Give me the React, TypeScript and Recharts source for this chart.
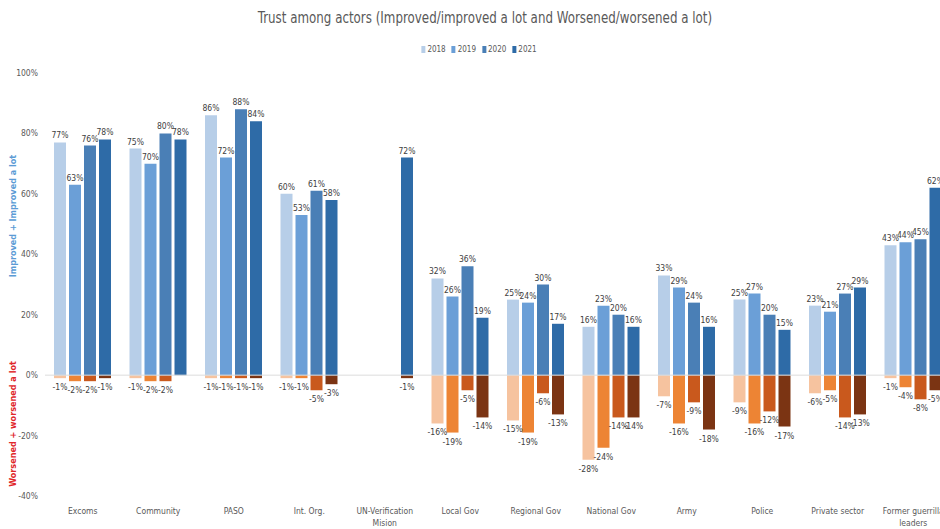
import { Bar, BarChart, LabelList, ReferenceLine, XAxis, YAxis } from "recharts";

const CATEGORIES = [
  "Excoms",
  "Community",
  "PASO",
  "Int. Org.",
  "UN-Verification Mision",
  "Local Gov",
  "Regional Gov",
  "National Gov",
  "Army",
  "Police",
  "Private sector",
  "Former guerrilla leaders",
];

const YEARS = ["2018", "2019", "2020", "2021"];

// improved + improved a lot (%)
const IMPROVED_2018 = [77, 75, 86, 60, 0, 32, 25, 16, 33, 25, 23, 43];
const IMPROVED_2019 = [63, 70, 72, 53, 0, 26, 24, 23, 29, 27, 21, 44];
const IMPROVED_2020 = [76, 80, 88, 61, 0, 36, 30, 20, 24, 20, 27, 45];
const IMPROVED_2021 = [78, 78, 84, 58, 72, 19, 17, 16, 16, 15, 29, 62];

// worsened + worsened a lot (%)
const WORSENED_2018 = [-1, -1, -1, -1, null, -16, -15, -28, -7, -9, -6, -1];
const WORSENED_2019 = [-2, -2, -1, -1, null, -19, -19, -24, -16, -16, -5, -4];
const WORSENED_2020 = [-2, -2, -1, -5, null, -5, -6, -14, -9, -12, -14, -8];
const WORSENED_2021 = [-1, 0, -1, -3, -1, -14, -13, -14, -18, -17, -13, -5];

const Y_TICKS = [-40, -20, 0, 20, 40, 60, 80, 100];

const IMPROVED = [IMPROVED_2018, IMPROVED_2019, IMPROVED_2020, IMPROVED_2021];
const WORSENED = [WORSENED_2018, WORSENED_2019, WORSENED_2020, WORSENED_2021];

const BLUES = ["#b7cee8", "#6b9fd7", "#4a7fb6", "#2e6ba7"];
const ORANGES = ["#f6c39f", "#ed8434", "#c9591d", "#7b3413"];

const FONT = "'DejaVu Sans Condensed', 'Liberation Sans Narrow', 'Liberation Sans', sans-serif";

const data = CATEGORIES.map((name, i) => {
  const row: Record<string, string | number | null> = { name };
  YEARS.forEach((y, k) => {
    row[`i${y}`] = IMPROVED[k][i];
    row[`w${y}`] = WORSENED[k][i];
  });
  return row;
});

const TopLabel = (p: any) => {
  if (p.value == null) return null;
  const top = Math.min(p.y, p.y + p.height);
  return (
    <text x={p.x + p.width / 2} y={top - 4} textAnchor="middle" fontSize={8.5} fontFamily={FONT} fill="#404040">
      {`${p.value}%`}
    </text>
  );
};

const BottomLabel = (p: any) => {
  if (p.value == null) return null;
  const bottom = Math.max(p.y, p.y + p.height);
  return (
    <text x={p.x + p.width / 2} y={bottom + 12} textAnchor="middle" fontSize={8.5} fontFamily={FONT} fill="#404040">
      {`${p.value}%`}
    </text>
  );
};

const CategoryTick = (p: any) => {
  const words = String(p.payload.value).split(" ");
  const lines: string[] = [];
  let cur = "";
  words.forEach((w) => {
    const next = cur ? `${cur} ${w}` : w;
    if (next.length > 16 && cur) {
      lines.push(cur);
      cur = w;
    } else cur = next;
  });
  lines.push(cur);
  return (
    <text x={p.x} y={p.y} textAnchor="middle" fontSize={8.5} fontFamily={FONT} fill="#595959">
      {lines.map((l, i) => (
        <tspan key={i} x={p.x} dy={i === 0 ? "0.71em" : 12}>
          {l}
        </tspan>
      ))}
    </text>
  );
};

export default function App() {
  return (
    <div
      style={{
        position: "fixed",
        left: 0,
        top: 0,
        width: 940,
        height: 529,
        overflow: "hidden",
        background: "#fff",
        fontFamily: FONT,
      }}
    >
      <div
        style={{
          position: "absolute",
          left: 485,
          top: 9,
          transform: "translateX(-50%) scaleX(0.88)",
          whiteSpace: "nowrap",
          fontSize: 15,
          color: "#595959",
        }}
      >
        Trust among actors (Improved/improved a lot and Worsened/worsened a lot)
      </div>
      <div
        style={{
          position: "absolute",
          left: 479,
          top: 45,
          transform: "translateX(-50%)",
          display: "flex",
          gap: 6,
          fontSize: 8,
          color: "#595959",
          whiteSpace: "nowrap",
        }}
      >
        {YEARS.map((y, k) => (
          <span key={y} style={{ display: "flex", alignItems: "center", gap: 2 }}>
            <span style={{ display: "inline-block", width: 4, height: 7, background: BLUES[k] }} />
            {y}
          </span>
        ))}
      </div>
      <div
        style={{
          position: "absolute",
          left: 13,
          top: 216,
          transform: "translate(-50%, -50%) rotate(-90deg)",
          whiteSpace: "nowrap",
          fontSize: 9,
          fontWeight: 700,
          color: "#5b9bd5",
        }}
      >
        Improved + Improved a lot
      </div>
      <div
        style={{
          position: "absolute",
          left: 13,
          top: 424,
          transform: "translate(-50%, -50%) rotate(-90deg)",
          whiteSpace: "nowrap",
          fontSize: 9,
          fontWeight: 700,
          color: "#e0262a",
        }}
      >
        Worsened + worsened a lot
      </div>
      <div style={{ position: "absolute", left: 0, top: 0 }}>
        <BarChart
          width={960}
          height={529}
          data={data}
          stackOffset="sign"
          barSize={12}
          barGap={3}
          margin={{ top: 73, right: 9, bottom: 0, left: 0 }}
        >
          <XAxis
            dataKey="name"
            axisLine={false}
            tickLine={false}
            tickSize={0}
            tickMargin={12}
            height={33}
            interval={0}
            tick={<CategoryTick />}
          />
          <YAxis
            domain={[-40, 100]}
            ticks={Y_TICKS}
            tickFormatter={(v: number) => `${v}%`}
            axisLine={false}
            tickLine={false}
            tickSize={0}
            tickMargin={7}
            width={45}
            interval={0}
            tick={{ fill: "#595959", fontSize: 8.5, fontFamily: FONT }}
          />
          <ReferenceLine y={0} stroke="#dcdcdc" strokeWidth={1} />
          {YEARS.flatMap((y, k) => [
            <Bar key={`w${y}`} dataKey={`w${y}`} stackId={y} fill={ORANGES[k]} isAnimationActive={false}>
              <LabelList dataKey={`w${y}`} content={<BottomLabel />} />
            </Bar>,
            <Bar key={`i${y}`} dataKey={`i${y}`} stackId={y} fill={BLUES[k]} isAnimationActive={false}>
              <LabelList dataKey={`i${y}`} content={<TopLabel />} />
            </Bar>,
          ])}
        </BarChart>
      </div>
    </div>
  );
}
